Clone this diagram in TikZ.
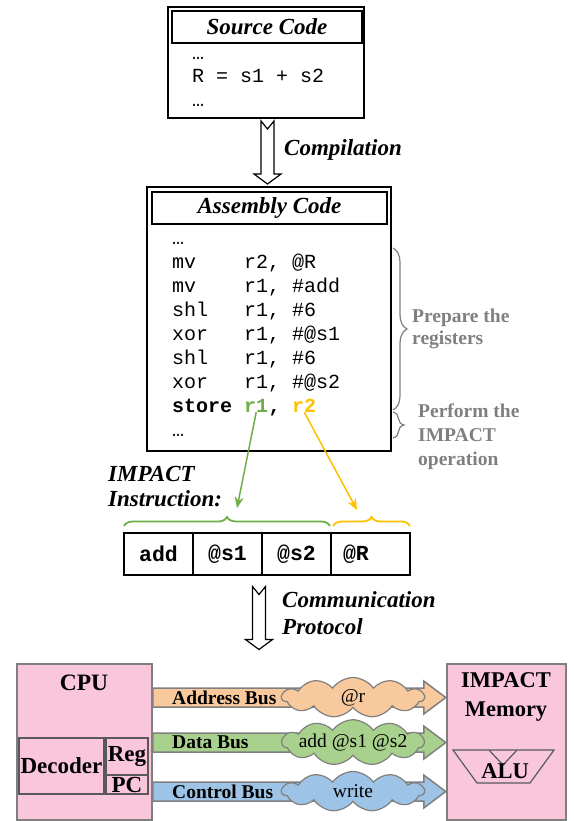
\documentclass[tikz,border=0pt]{standalone}
\usepackage{fontspec}
\setmainfont{Liberation Serif}
\setmonofont{Liberation Mono}
\usetikzlibrary{calc,arrows.meta,shapes.symbols,decorations.pathreplacing}
\definecolor{impgray}{HTML}{7F7F7F}
\definecolor{impdark}{HTML}{595959}
\definecolor{impgreen}{HTML}{70AD47}
\definecolor{impyellow}{HTML}{FFC000}
\definecolor{imppink}{HTML}{FAC6DC}
\definecolor{impaddr}{HTML}{F8C99C}
\definecolor{impdata}{HTML}{A9D18E}
\definecolor{impctrl}{HTML}{9DC3E6}

\tikzset{
  frame/.style={draw, line width=1.5pt, inner sep=0pt},
  boxtitle/.style={draw, line width=1.5pt, inner sep=0pt, minimum height=32pt,
    font=\fontsize{23}{26}\selectfont\bfseries\itshape},
  codeline/.style={anchor=base west, inner sep=0pt, font=\fontsize{20}{24}\selectfont\ttfamily},
  boldcode/.style={codeline, font=\fontsize{20}{24}\selectfont\ttfamily\bfseries},
  caption/.style={anchor=west, inner sep=0pt, align=left,
    font=\fontsize{23}{25}\selectfont\bfseries\itshape},
  note/.style={anchor=west, inner sep=0pt, align=left, text=impgray,
    font=\fontsize{19.5}{22}\selectfont\bfseries},
  graybrace/.style={draw=impgray, line width=1.2pt, decorate,
    decoration={brace, amplitude=14pt}},
  fieldbrace/.style={line width=1.8pt, decorate, decoration={brace, amplitude=9pt}},
  field/.style={draw, line width=1.5pt, inner sep=0pt, outer sep=0pt, minimum width=69pt,
    minimum height=42pt, anchor=west, font=\fontsize{21.5}{24}\selectfont\ttfamily\bfseries},
  pickarrow/.style={line width=1.5pt, -{Stealth[length=11pt,width=9pt]}},
  unit/.style={draw=impgray, line width=1.5pt, fill=imppink, inner sep=0pt},
  part/.style={draw=impdark, line width=1.5pt, fill=imppink, inner sep=0pt,
    font=\fontsize{23}{24}\selectfont\bfseries},
  bigbold/.style={inner sep=0pt, align=center, font=\fontsize{22.5}{29}\selectfont\bfseries},
  busband/.style={draw=impgray, line width=1.5pt},
  buslabel/.style={anchor=west, inner sep=0pt, font=\fontsize{19.5}{22}\selectfont\bfseries},
  busdata/.style={cloud, cloud puffs=11, cloud puff arc=110, aspect=3.5, draw=impgray,
    line width=1.2pt, minimum width=142pt, minimum height=40pt, inner xsep=-16pt,
    inner ysep=-6pt, font=\fontsize{19.5}{22}\selectfont},
  hollowdown/.pic={
    \draw[line width=1.2pt, fill=white] (-6.5,-31.5) -- (0,-23.5) -- (6.5,-31.5) -- (6.5,21.5)
      -- (13.5,21.5) -- (0,31.5) -- (-13.5,21.5) -- (-6.5,21.5) -- cycle;
  }
}

\begin{document}
\begin{tikzpicture}[x=1pt, y=-1pt]
  \useasboundingbox (0,0) rectangle (573,821);

  % Source code
  \node[frame, minimum width=196pt, minimum height=111pt] (src) at (266,62.5) {};
  \node[boxtitle, minimum width=190pt] (srctitle) at (267,27) {Source Code};
  \node[codeline] (srcdots1) at (192,60) {…};
  \node[codeline] (srcline) at (192,83) {R = s1 + s2};
  \node[codeline] (srcdots2) at (192,107) {…};

  % Assembly code
  \node[frame, minimum width=244pt, minimum height=264pt] (asm) at (269,319) {};
  \node[boxtitle, minimum width=235pt] (asmtitle) at (269.5,208) {Assembly Code};
  \node[codeline] (asmdots1) at (172,244) {…};
  \foreach \y/\op/\args in {268/mv/{r2, @R}, 292/mv/{r1, \#add}, 316/shl/{r1, \#6},
      340/xor/{r1, \#@s1}, 364/shl/{r1, \#6}, 388/xor/{r1, \#@s2}} {
    \node[codeline] (op\y) at (172,\y) {\op};
    \node[codeline] (arg\y) at (244,\y) {\args};
  }
  \node[boldcode] (store) at (172,412) {store};
  \node[boldcode, text=impgreen] (r1) at (244,412) {r1};
  \node[boldcode] (comma) at (r1.base east) {,};
  \node[boldcode, text=impyellow] (r2) at (292,412) {r2};
  \node[codeline] (asmdots2) at (172,436) {…};

  % Compilation
  \pic at ($(src.south)!0.5!(asm.north)$) {hollowdown};
  \node[caption] (compile) at (284,150) {Compilation};

  % Braces and notes
  \draw[graybrace] (393,248) -- (393,410);
  \draw[graybrace, decoration={amplitude=11pt}] (393,412) -- (393,438);
  \node[note] (prep) at (412,329) {Prepare the\\registers};
  \node[note, font=\fontsize{19.5}{24}\selectfont\bfseries] (perform) at (418,437)
    {Perform the\\IMPACT\\operation};

  % IMPACT instruction
  \node[caption] (instr) at (108,487) {IMPACT\\Instruction:};
  \node[field] (fadd) at (124,554) {add};
  \node[field] (fs1) at (fadd.east) {@s1};
  \node[field] (fs2) at (fs1.east) {@s2};
  \node[field, minimum width=79pt, text width=55pt, align=left, inner xsep=12pt] (fR) at (fs2.east) {@R};
  \draw[fieldbrace, impgreen] ($(fadd.north west)+(0,-7)$) -- ($(fs2.north east)+(-1,-7)$);
  \draw[fieldbrace, impyellow] ($(fR.north west)+(2,-7)$) -- ($(fR.north east)+(0,-7)$);
  \coordinate (gtip) at (237,508);
  \coordinate (ytip) at (357,510);
  \draw[pickarrow, impgreen] (r1.south) -- (gtip);
  \draw[pickarrow, impyellow] (r2.south) -- (ytip);

  % Communication protocol
  \coordinate (proto) at (259,618);
  \pic at (proto) {hollowdown};
  \node[caption, font=\fontsize{23}{27}\selectfont\bfseries\itshape] (protocol) at (282,613)
    {Communication\\Protocol};

  % CPU
  \node[unit, minimum width=135pt, minimum height=156pt] (cpu) at (84.5,742) {};
  \node[bigbold, font=\fontsize{23.5}{29}\selectfont\bfseries] (cputext) at (84,683) {CPU};
  \node[part, minimum width=85pt, minimum height=56pt] (decoder) at (61.5,766) {Decoder};
  \node[part, minimum width=42pt, minimum height=37pt] (reg) at (127,756.5) {Reg};
  \node[part, minimum width=42pt, minimum height=19pt] (pc) at (127,784.5) {PC};

  % IMPACT memory
  \node[unit, minimum width=119pt, minimum height=156pt] (mem) at (506.5,742) {};
  \node[bigbold] (memtext) at (506,697) {IMPACT\\Memory};
  \draw[draw=impdark, line width=1.2pt] (453,750) -- (554,750) -- (530,783) -- (477,783) -- cycle;
  \draw[draw=impdark, line width=1.2pt] (489,750) -- (503,765) -- (517,750);
  \node[bigbold] (alu) at (505,771) {ALU};

  % Buses
  \foreach \y/\c/\lbl/\val [count=\i] in {697.5/impaddr/Address Bus/@r,
      742.5/impdata/Data Bus/add @s1 @s2, 791.5/impctrl/Control Bus/write} {
    \coordinate (bus\i) at (0,\y);
    \draw[busband, fill=\c] (cpu.east |- bus\i) ++(0,-9.5) -- ++(271,0) -- ++(0,-7)
      -- ++(22,16.5) -- ++(-22,16.5) -- ++(0,-7) -- ++(-271,0) -- cycle;
    \node[buslabel] (label\i) at (172,\y) {\lbl};
    \node[busdata, fill=\c] (cloud\i) at (353,\y) {\val};
  }
\end{tikzpicture}
\end{document}
